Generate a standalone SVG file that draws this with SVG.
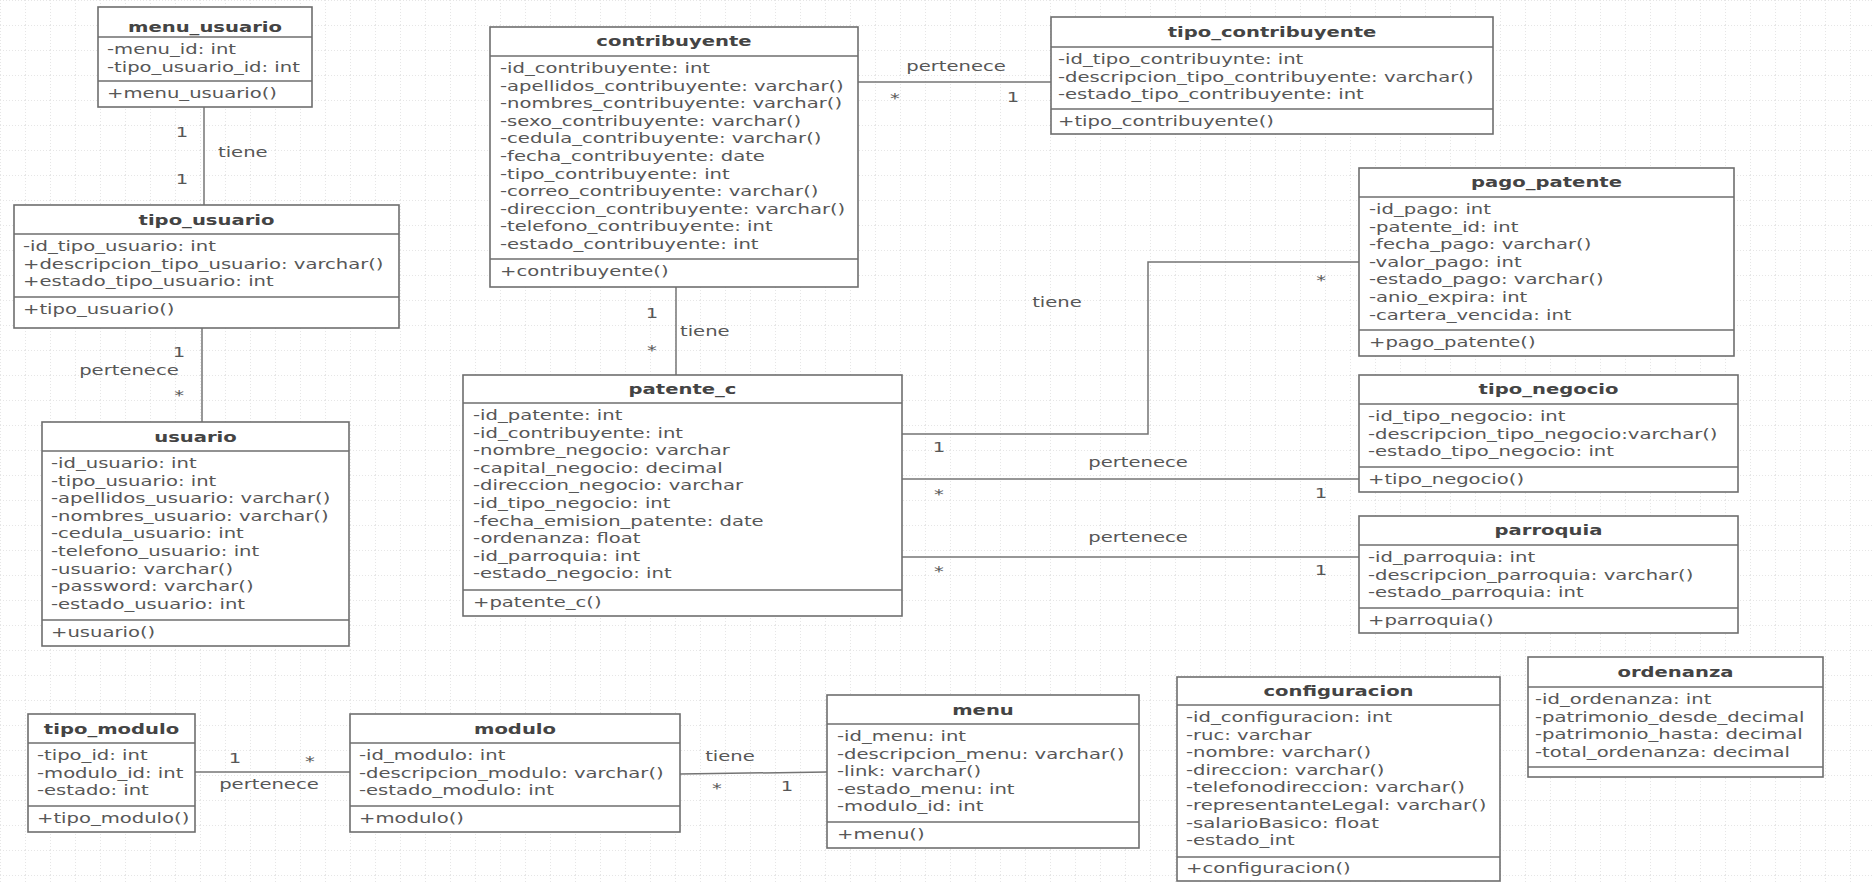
<svg xmlns="http://www.w3.org/2000/svg" width="1872" height="883" viewBox="0 0 1872 883">
<defs>
<pattern id="grid" width="25" height="25" patternUnits="userSpaceOnUse">
<path d="M0 0.5H25M0.5 0V25" fill="none" stroke="#e6e6e6" stroke-width="1" stroke-dasharray="1 2"/>
</pattern>
<style>
.box{fill:#fff;stroke:#6e6e6e;stroke-width:1.6}
.sep{stroke:#6e6e6e;stroke-width:1.6}
.t{font-family:'DejaVu Sans',Verdana,sans-serif;font-size:14px;font-weight:bold;fill:#444;text-anchor:middle}
.a{font-family:'DejaVu Sans',Verdana,sans-serif;font-size:14px;fill:#575757}
.l{font-family:'DejaVu Sans',Verdana,sans-serif;font-size:14px;fill:#575757}
.m{text-anchor:middle}
.c{fill:none;stroke:#747474;stroke-width:1.5}
</style>
</defs>
<rect width="1872" height="883" fill="#fff"/>
<rect width="1872" height="883" fill="url(#grid)"/>

<g id="connectors">
<line class="c" x1="204" y1="107" x2="204" y2="205"/>
<line class="c" x1="202" y1="328" x2="202" y2="422"/>
<line class="c" x1="858" y1="82" x2="1051" y2="82"/>
<line class="c" x1="676" y1="287" x2="676" y2="375"/>
<polyline class="c" points="902,434 1148,434 1148,262 1359,262"/>
<line class="c" x1="902" y1="479" x2="1359" y2="479"/>
<line class="c" x1="902" y1="557" x2="1359" y2="557"/>
<line class="c" x1="195" y1="772" x2="350" y2="772"/>
<line class="c" x1="680" y1="774" x2="827" y2="772"/>
<g transform="matrix(1.4,0,0,1,0,0)">
<text class="l m" x="130" y="137">1</text>
<text class="l" x="155.7" y="157">tiene</text>
<text class="l m" x="130" y="184">1</text>
<text class="l m" x="127.9" y="357">1</text>
<text class="l m" x="92.1" y="375">pertenece</text>
<text class="l m" x="127.9" y="400">*</text>
<text class="l m" x="682.9" y="71">pertenece</text>
<text class="l m" x="639.3" y="103">*</text>
<text class="l m" x="723.6" y="102">1</text>
<text class="l m" x="465.7" y="318">1</text>
<text class="l" x="485.7" y="336">tiene</text>
<text class="l m" x="465.7" y="355">*</text>
<text class="l m" x="670.7" y="452">1</text>
<text class="l m" x="755" y="307">tiene</text>
<text class="l m" x="943.6" y="285">*</text>
<text class="l m" x="812.9" y="467">pertenece</text>
<text class="l m" x="670.7" y="499">*</text>
<text class="l m" x="943.6" y="498">1</text>
<text class="l m" x="812.9" y="542">pertenece</text>
<text class="l m" x="670.7" y="576">*</text>
<text class="l m" x="943.6" y="575">1</text>
<text class="l m" x="167.9" y="763">1</text>
<text class="l m" x="221.4" y="766">*</text>
<text class="l m" x="192.1" y="789">pertenece</text>
<text class="l m" x="521.4" y="761">tiene</text>
<text class="l m" x="512.1" y="793">*</text>
<text class="l m" x="562.1" y="791">1</text>
</g>
</g>

<g id="menu_usuario">
<rect class="box" x="98" y="7" width="214" height="100"/>
<line class="sep" x1="98" y1="37" x2="312" y2="37"/>
<line class="sep" x1="98" y1="81" x2="312" y2="81"/>
<g transform="matrix(1.4,0,0,1,205,0)"><text class="t" y="32">menu_usuario</text></g>
<g transform="matrix(1.4,0,0,1,107,0)">
<text class="a" y="54">-menu_id: int</text>
<text class="a" y="71.6">-tipo_usuario_id: int</text>
<text class="a" y="98">+menu_usuario()</text>
</g>
</g>

<g id="tipo_usuario">
<rect class="box" x="14" y="205" width="385" height="123"/>
<line class="sep" x1="14" y1="234" x2="399" y2="234"/>
<line class="sep" x1="14" y1="297" x2="399" y2="297"/>
<g transform="matrix(1.4,0,0,1,206.5,0)"><text class="t" y="225">tipo_usuario</text></g>
<g transform="matrix(1.4,0,0,1,23,0)">
<text class="a" y="251">-id_tipo_usuario: int</text>
<text class="a" y="268.6">+descripcion_tipo_usuario: varchar()</text>
<text class="a" y="286.2">+estado_tipo_usuario: int</text>
<text class="a" y="314">+tipo_usuario()</text>
</g>
</g>

<g id="usuario">
<rect class="box" x="42" y="422" width="307" height="224"/>
<line class="sep" x1="42" y1="451" x2="349" y2="451"/>
<line class="sep" x1="42" y1="620" x2="349" y2="620"/>
<g transform="matrix(1.4,0,0,1,195.5,0)"><text class="t" y="442">usuario</text></g>
<g transform="matrix(1.4,0,0,1,51,0)">
<text class="a" y="468">-id_usuario: int</text>
<text class="a" y="485.6">-tipo_usuario: int</text>
<text class="a" y="503.2">-apellidos_usuario: varchar()</text>
<text class="a" y="520.8">-nombres_usuario: varchar()</text>
<text class="a" y="538.4">-cedula_usuario: int</text>
<text class="a" y="556">-telefono_usuario: int</text>
<text class="a" y="573.6">-usuario: varchar()</text>
<text class="a" y="591.2">-password: varchar()</text>
<text class="a" y="608.8">-estado_usuario: int</text>
<text class="a" y="637">+usuario()</text>
</g>
</g>

<g id="contribuyente">
<rect class="box" x="490" y="27" width="368" height="260"/>
<line class="sep" x1="490" y1="56" x2="858" y2="56"/>
<line class="sep" x1="490" y1="259" x2="858" y2="259"/>
<g transform="matrix(1.4,0,0,1,674,0)"><text class="t" y="46">contribuyente</text></g>
<g transform="matrix(1.4,0,0,1,500,0)">
<text class="a" y="73">-id_contribuyente: int</text>
<text class="a" y="90.6">-apellidos_contribuyente: varchar()</text>
<text class="a" y="108.2">-nombres_contribuyente: varchar()</text>
<text class="a" y="125.8">-sexo_contribuyente: varchar()</text>
<text class="a" y="143.4">-cedula_contribuyente: varchar()</text>
<text class="a" y="161">-fecha_contribuyente: date</text>
<text class="a" y="178.6">-tipo_contribuyente: int</text>
<text class="a" y="196.2">-correo_contribuyente: varchar()</text>
<text class="a" y="213.8">-direccion_contribuyente: varchar()</text>
<text class="a" y="231.4">-telefono_contribuyente: int</text>
<text class="a" y="249">-estado_contribuyente: int</text>
<text class="a" y="276">+contribuyente()</text>
</g>
</g>

<g id="tipo_contribuyente">
<rect class="box" x="1051" y="17" width="442" height="117"/>
<line class="sep" x1="1051" y1="47" x2="1493" y2="47"/>
<line class="sep" x1="1051" y1="109" x2="1493" y2="109"/>
<g transform="matrix(1.4,0,0,1,1272,0)"><text class="t" y="37">tipo_contribuyente</text></g>
<g transform="matrix(1.4,0,0,1,1058,0)">
<text class="a" y="64">-id_tipo_contribuynte: int</text>
<text class="a" y="81.6">-descripcion_tipo_contribuyente: varchar()</text>
<text class="a" y="99.2">-estado_tipo_contribuyente: int</text>
<text class="a" y="126">+tipo_contribuyente()</text>
</g>
</g>

<g id="pago_patente">
<rect class="box" x="1359" y="168" width="375" height="188"/>
<line class="sep" x1="1359" y1="197" x2="1734" y2="197"/>
<line class="sep" x1="1359" y1="330" x2="1734" y2="330"/>
<g transform="matrix(1.4,0,0,1,1546.5,0)"><text class="t" y="187">pago_patente</text></g>
<g transform="matrix(1.4,0,0,1,1369,0)">
<text class="a" y="214">-id_pago: int</text>
<text class="a" y="231.6">-patente_id: int</text>
<text class="a" y="249.2">-fecha_pago: varchar()</text>
<text class="a" y="266.8">-valor_pago: int</text>
<text class="a" y="284.4">-estado_pago: varchar()</text>
<text class="a" y="302">-anio_expira: int</text>
<text class="a" y="319.6">-cartera_vencida: int</text>
<text class="a" y="347">+pago_patente()</text>
</g>
</g>

<g id="tipo_negocio">
<rect class="box" x="1359" y="375" width="379" height="117"/>
<line class="sep" x1="1359" y1="404" x2="1738" y2="404"/>
<line class="sep" x1="1359" y1="467" x2="1738" y2="467"/>
<g transform="matrix(1.4,0,0,1,1548.5,0)"><text class="t" y="394">tipo_negocio</text></g>
<g transform="matrix(1.4,0,0,1,1368,0)">
<text class="a" y="421">-id_tipo_negocio: int</text>
<text class="a" y="438.6">-descripcion_tipo_negocio:varchar()</text>
<text class="a" y="456.2">-estado_tipo_negocio: int</text>
<text class="a" y="484">+tipo_negocio()</text>
</g>
</g>

<g id="parroquia">
<rect class="box" x="1359" y="516" width="379" height="117"/>
<line class="sep" x1="1359" y1="545" x2="1738" y2="545"/>
<line class="sep" x1="1359" y1="608" x2="1738" y2="608"/>
<g transform="matrix(1.4,0,0,1,1548.5,0)"><text class="t" y="535">parroquia</text></g>
<g transform="matrix(1.4,0,0,1,1368,0)">
<text class="a" y="562">-id_parroquia: int</text>
<text class="a" y="579.6">-descripcion_parroquia: varchar()</text>
<text class="a" y="597.2">-estado_parroquia: int</text>
<text class="a" y="625">+parroquia()</text>
</g>
</g>

<g id="patente_c">
<rect class="box" x="463" y="375" width="439" height="241"/>
<line class="sep" x1="463" y1="403" x2="902" y2="403"/>
<line class="sep" x1="463" y1="590" x2="902" y2="590"/>
<g transform="matrix(1.4,0,0,1,682.5,0)"><text class="t" y="394">patente_c</text></g>
<g transform="matrix(1.4,0,0,1,473,0)">
<text class="a" y="420">-id_patente: int</text>
<text class="a" y="437.6">-id_contribuyente: int</text>
<text class="a" y="455.2">-nombre_negocio: varchar</text>
<text class="a" y="472.8">-capital_negocio: decimal</text>
<text class="a" y="490.4">-direccion_negocio: varchar</text>
<text class="a" y="508">-id_tipo_negocio: int</text>
<text class="a" y="525.6">-fecha_emision_patente: date</text>
<text class="a" y="543.2">-ordenanza: float</text>
<text class="a" y="560.8">-id_parroquia: int</text>
<text class="a" y="578.4">-estado_negocio: int</text>
<text class="a" y="607">+patente_c()</text>
</g>
</g>

<g id="tipo_modulo">
<rect class="box" x="28" y="714" width="167" height="118"/>
<line class="sep" x1="28" y1="743" x2="195" y2="743"/>
<line class="sep" x1="28" y1="806" x2="195" y2="806"/>
<g transform="matrix(1.4,0,0,1,111.5,0)"><text class="t" y="734">tipo_modulo</text></g>
<g transform="matrix(1.4,0,0,1,37,0)">
<text class="a" y="760">-tipo_id: int</text>
<text class="a" y="777.6">-modulo_id: int</text>
<text class="a" y="795.2">-estado: int</text>
<text class="a" y="823">+tipo_modulo()</text>
</g>
</g>

<g id="modulo">
<rect class="box" x="350" y="714" width="330" height="118"/>
<line class="sep" x1="350" y1="743" x2="680" y2="743"/>
<line class="sep" x1="350" y1="806" x2="680" y2="806"/>
<g transform="matrix(1.4,0,0,1,515,0)"><text class="t" y="734">modulo</text></g>
<g transform="matrix(1.4,0,0,1,359,0)">
<text class="a" y="760">-id_modulo: int</text>
<text class="a" y="777.6">-descripcion_modulo: varchar()</text>
<text class="a" y="795.2">-estado_modulo: int</text>
<text class="a" y="823">+modulo()</text>
</g>
</g>

<g id="menu">
<rect class="box" x="827" y="695" width="312" height="153"/>
<line class="sep" x1="827" y1="724" x2="1139" y2="724"/>
<line class="sep" x1="827" y1="822" x2="1139" y2="822"/>
<g transform="matrix(1.4,0,0,1,983,0)"><text class="t" y="715">menu</text></g>
<g transform="matrix(1.4,0,0,1,837,0)">
<text class="a" y="741">-id_menu: int</text>
<text class="a" y="758.6">-descripcion_menu: varchar()</text>
<text class="a" y="776.2">-link: varchar()</text>
<text class="a" y="793.8">-estado_menu: int</text>
<text class="a" y="811.4">-modulo_id: int</text>
<text class="a" y="839">+menu()</text>
</g>
</g>

<g id="configuracion">
<rect class="box" x="1177" y="677" width="323" height="204"/>
<line class="sep" x1="1177" y1="705" x2="1500" y2="705"/>
<line class="sep" x1="1177" y1="857" x2="1500" y2="857"/>
<g transform="matrix(1.4,0,0,1,1338.5,0)"><text class="t" y="696">configuracion</text></g>
<g transform="matrix(1.4,0,0,1,1186,0)">
<text class="a" y="722">-id_configuracion: int</text>
<text class="a" y="739.6">-ruc: varchar</text>
<text class="a" y="757.2">-nombre: varchar()</text>
<text class="a" y="774.8">-direccion: varchar()</text>
<text class="a" y="792.4">-telefonodireccion: varchar()</text>
<text class="a" y="810">-representanteLegal: varchar()</text>
<text class="a" y="827.6">-salarioBasico: float</text>
<text class="a" y="845.2">-estado_int</text>
<text class="a" y="873">+configuracion()</text>
</g>
</g>

<g id="ordenanza">
<rect class="box" x="1528" y="657" width="295" height="120"/>
<line class="sep" x1="1528" y1="687" x2="1823" y2="687"/>
<line class="sep" x1="1528" y1="767" x2="1823" y2="767"/>
<g transform="matrix(1.4,0,0,1,1675.5,0)"><text class="t" y="677">ordenanza</text></g>
<g transform="matrix(1.4,0,0,1,1535,0)">
<text class="a" y="704">-id_ordenanza: int</text>
<text class="a" y="721.6">-patrimonio_desde_decimal</text>
<text class="a" y="739.2">-patrimonio_hasta: decimal</text>
<text class="a" y="756.8">-total_ordenanza: decimal</text>
</g>
</g>
</svg>
